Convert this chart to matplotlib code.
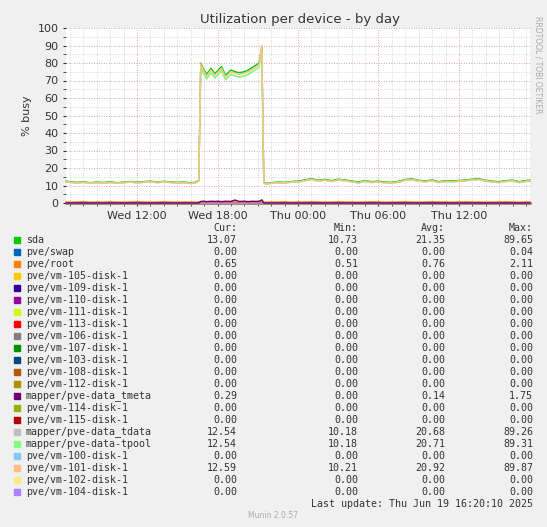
import matplotlib
matplotlib.use("Agg")
import matplotlib.pyplot as plt
from matplotlib.ticker import MultipleLocator

# hours since Wed 00:00
t = [6.7,7,7.5,8,8.5,9,9.5,10,10.5,11,11.5,12,12.5,13,13.5,14,14.5,15,15.5,16,16.4,16.6,16.75,17,17.2,17.5,17.8,18,18.3,18.6,19,19.3,19.6,20,20.3,20.6,20.9,21.1,21.3,21.45,21.6,22,22.5,23,23.5,24,24.5,25,25.5,26,26.5,27,27.5,28,28.5,29,29.5,30,30.5,31,31.5,32,32.5,33,33.5,34,34.5,35,35.5,36,36.5,37,37.5,38,38.5,39,39.5,40,40.5,41,41.3]
sda = [12.5,12.2,11.8,12.2,11.6,12.0,11.7,12.1,11.6,12.0,12.3,11.9,12.2,12.5,12.0,12.4,12.1,11.8,12.0,11.5,12.0,13.0,80.0,76.0,73.5,77.0,74.0,75.5,78.0,73.0,76.0,75.0,74.5,75.0,76.0,77.5,79.0,80.0,89.6,12.0,11.2,11.6,12.0,11.8,12.3,12.5,13.2,14.0,13.0,13.5,12.8,13.6,13.2,12.6,12.0,12.8,12.2,12.5,12.0,11.8,12.4,13.5,13.8,13.0,12.6,13.2,12.2,12.8,12.6,12.9,13.2,13.6,13.9,13.0,12.5,12.2,12.8,13.1,12.2,12.9,13.1]
tpool = [12.0,11.8,11.4,11.8,11.2,11.6,11.3,11.7,11.2,11.6,11.9,11.5,11.8,12.1,11.6,12.0,11.7,11.4,11.6,11.1,11.6,12.5,78.0,73.5,71.0,74.5,71.5,73.0,75.5,70.5,73.5,72.5,72.0,72.5,73.5,75.0,76.5,77.5,89.3,11.5,10.8,11.2,11.6,11.4,11.9,12.0,12.7,13.5,12.5,13.0,12.3,13.1,12.7,12.1,11.5,12.3,11.7,12.0,11.5,11.3,11.9,13.0,13.3,12.5,12.1,12.7,11.7,12.3,12.1,12.4,12.7,13.1,13.4,12.5,12.0,11.7,12.3,12.6,11.7,12.4,12.5]
tdata = list(tpool)
vm101 = [12.1,11.9,11.5,11.9,11.3,11.7,11.4,11.8,11.3,11.7,12.0,11.6,11.9,12.2,11.7,12.1,11.8,11.5,11.7,11.2,11.7,12.6,79.5,75.0,72.5,76.0,73.0,74.5,77.0,72.0,75.0,74.0,73.5,74.0,75.0,76.5,78.0,79.0,89.9,11.6,10.9,11.3,11.7,11.5,12.0,12.1,12.8,13.6,12.6,13.1,12.4,13.2,12.8,12.2,11.6,12.4,11.8,12.1,11.6,11.4,12.0,13.1,13.4,12.6,12.2,12.8,11.8,12.4,12.2,12.5,12.8,13.2,13.5,12.6,12.1,11.8,12.4,12.7,11.8,12.5,12.6]
root = [0.6,0.5,0.6,0.7,0.5,0.6,0.5,0.7,0.6,0.5,0.6,0.7,0.6,0.5,0.6,0.7,0.6,0.5,0.6,0.6,0.5,0.6,0.7,0.6,0.7,0.6,0.6,0.7,0.6,0.6,0.7,0.6,0.6,0.6,0.7,0.6,0.6,0.7,2.0,0.6,0.5,0.6,0.6,0.7,0.5,0.6,0.6,0.7,0.6,0.5,0.6,0.7,0.6,0.6,0.5,0.6,0.7,0.6,0.5,0.6,0.6,0.7,0.6,0.5,0.6,0.7,0.6,0.6,0.5,0.6,0.7,0.6,0.6,0.5,0.6,0.6,0.7,0.6,0.5,0.6,0.65]
tmeta = [0]*22 + [0.9,1.0,0.8,1.0,0.9,1.0,0.8,1.0,0.9,1.7,0.9,1.0,0.8,1.0,0.9,1.0,1.5] + [0]*42

names = ["sda","pve/swap","pve/root","pve/vm-105-disk-1","pve/vm-109-disk-1","pve/vm-110-disk-1",
         "pve/vm-111-disk-1","pve/vm-113-disk-1","pve/vm-106-disk-1","pve/vm-107-disk-1",
         "pve/vm-103-disk-1","pve/vm-108-disk-1","pve/vm-112-disk-1","mapper/pve-data_tmeta",
         "pve/vm-114-disk-1","pve/vm-115-disk-1","mapper/pve-data_tdata","mapper/pve-data-tpool",
         "pve/vm-100-disk-1","pve/vm-101-disk-1","pve/vm-102-disk-1","pve/vm-104-disk-1"]
colors = ["#00cc00","#0066b3","#ff8000","#ffcc00","#330099","#990099","#ccff00","#ff0000",
          "#808080","#008f00","#00487d","#b35a00","#b38f00","#6b006b","#8fb300","#b30000",
          "#bebebe","#80ff80","#80c9ff","#ffc080","#ffe680","#aa80ff"]
cur = ["13.07","0.00","0.65","0.00","0.00","0.00","0.00","0.00","0.00","0.00","0.00","0.00","0.00","0.29","0.00","0.00","12.54","12.54","0.00","12.59","0.00","0.00"]
mins = ["10.73","0.00","0.51","0.00","0.00","0.00","0.00","0.00","0.00","0.00","0.00","0.00","0.00","0.00","0.00","0.00","10.18","10.18","0.00","10.21","0.00","0.00"]
avgs = ["21.35","0.00","0.76","0.00","0.00","0.00","0.00","0.00","0.00","0.00","0.00","0.00","0.00","0.14","0.00","0.00","20.68","20.71","0.00","20.92","0.00","0.00"]
maxs = ["89.65","0.04","2.11","0.00","0.00","0.00","0.00","0.00","0.00","0.00","0.00","0.00","0.00","1.75","0.00","0.00","89.26","89.31","0.00","89.87","0.00","0.00"]
xticks = [12, 18, 24, 30, 36]
xlabels = ["Wed 12:00","Wed 18:00","Thu 00:00","Thu 06:00","Thu 12:00"]

W, H = 547, 527
fig = plt.figure(figsize=(W/100, H/100), dpi=100, facecolor="#f0f0f0")
ax = fig.add_axes([66/W, 1-203/H, 464/W, 175/H])
ax.set_facecolor("white")
ax.set_xlim(6.7, 41.3)
ax.set_ylim(0, 100)

zero = [0]*len(t)
series = {"sda": sda, "pve/root": root, "mapper/pve-data_tmeta": tmeta,
          "mapper/pve-data_tdata": tdata, "mapper/pve-data-tpool": tpool, "pve/vm-101-disk-1": vm101}
for i, (n, c) in enumerate(zip(names, colors)):
    z = 4 + i*0.01 if n in series else 2
    ax.plot(t, series.get(n, zero), color=c, lw=1, zorder=z, clip_on=False)

ax.xaxis.set_minor_locator(MultipleLocator(1))
ax.yaxis.set_minor_locator(MultipleLocator(5))
ax.set_xticks(xticks)
ax.set_xticklabels(xlabels)
ax.set_yticks(range(0, 101, 10))
ax.grid(which="minor", color="#c8c8c8", ls=(0, (1, 2)), lw=0.6)
ax.grid(which="major", color="#e08080", ls=(0, (1, 2)), lw=0.6)
ax.set_axisbelow(True)
for s in ax.spines.values():
    s.set_visible(False)
ax.tick_params(labelsize=8, colors="#333333", length=2, which="both")
ax.axhline(0, color="#999999", lw=0.8, zorder=1)
ax.set_ylabel("% busy", fontsize=8, color="#333333")
fig.text(300/W, 1-19/H, "Utilization per device - by day", ha="center", va="center", fontsize=9.5, color="#333333")
fig.text(538/W, 1-65/H, "RRDTOOL / TOBI OETIKER", rotation=270, ha="center", va="center", fontsize=5.5, color="#aaaaaa")

mono = "DejaVu Sans Mono"
fs = 7.2
y0 = 240
def fy(y): return 1 - y/H
for col, x in zip(["Cur:","Min:","Avg:","Max:"], [237, 358, 445, 533]):
    fig.text(x/W, fy(228), col, ha="right", va="center", family=mono, fontsize=fs, color="#333333")
for i, n in enumerate(names):
    y = y0 + i*12
    fig.patches.append(plt.Rectangle((14/W, fy(y+3)), 6/W, 6/H, transform=fig.transFigure, color=colors[i]))
    fig.text(26/W, fy(y), n, ha="left", va="center", family=mono, fontsize=fs, color="#333333")
    for v, x in zip([cur[i], mins[i], avgs[i], maxs[i]], [237, 358, 445, 533]):
        fig.text(x/W, fy(y), v, ha="right", va="center", family=mono, fontsize=fs, color="#333333")
fig.text(533/W, fy(504), "Last update: Thu Jun 19 16:20:10 2025", ha="right", va="center", family=mono, fontsize=fs, color="#333333")
fig.text(273/W, fy(516), "Munin 2.0.57", ha="center", va="center", fontsize=5.5, color="#aaaaaa")
fig.savefig("out.png", dpi=100, facecolor=fig.get_facecolor())
